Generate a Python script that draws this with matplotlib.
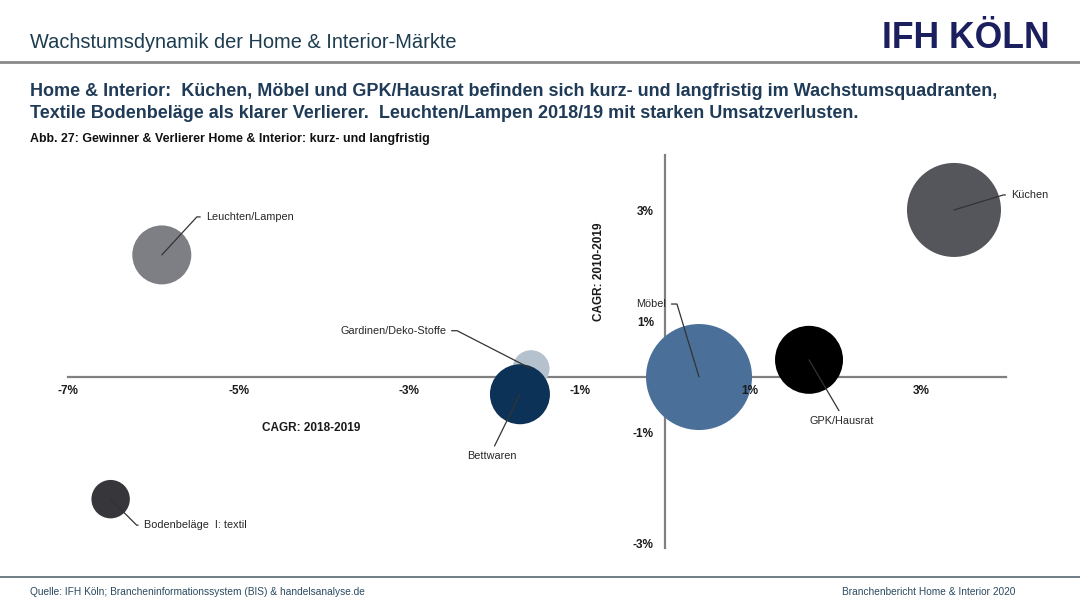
import math
import matplotlib
matplotlib.use('Agg')
import matplotlib.pyplot as plt
from matplotlib.lines import Line2D
from matplotlib import font_manager as fm
import numpy as np

# ---------------- data ----------------
segmente = ['Küchen', 'Leuchten/Lampen', 'Gardinen/Deko-Stoffe', 'Bettwaren',
            'Möbel', 'GPK/Hausrat', 'Bodenbeläge  I: textil']
cagr_2018_2019 = [3.39, -5.90, -1.57, -1.70, 0.40, 1.69, -6.50]   # x, in %
cagr_2010_2019 = [3.01, 2.20, 0.15, -0.31, 0.00, 0.31, -2.20]     # y, in %
marktgroesse = [2209, 870, 342, 900, 2809, 1156, 369]            # relative bubble area
farben = ['#55565b', '#7e7f84', '#b5c1cc', '#0c3257', '#4a7099', '#000000', '#36363b']

x_ticks = [-7, -5, -3, -1, 1, 3]
x_ticklabels = ['-7%', '-5%', '-3%', '-1%', '1%', '3%']
y_ticks = [3, 1, -1, -3]
y_ticklabels = ['3%', '1%', '-1%', '-3%']

# ---------------- figure ----------------
W, H = 1080, 607
fig = plt.figure(figsize=(W / 100, H / 100), dpi=100)
fig.patch.set_facecolor('white')

names = {f.name for f in fm.fontManager.ttflist}
BASE = 'Liberation Sans' if 'Liberation Sans' in names else 'DejaVu Sans'
NARROW = 'Liberation Sans Narrow' if 'Liberation Sans Narrow' in names else None
plt.rcParams['font.family'] = [BASE, 'DejaVu Sans']


def fx(px):
    return px / W


def fy(py):
    return 1 - py / H


ax = fig.add_axes([fx(68), fy(548), (1006 - 68) / W, (548 - 155) / H])
ax.set_xlim(-7.0, 4.0)
ax.set_ylim(-3.08, 4.0)
ax.patch.set_alpha(0)

for s in ['top', 'right']:
    ax.spines[s].set_visible(False)
ax.spines['left'].set_position(('data', 0))
ax.spines['bottom'].set_position(('data', 0))
for s in ['left', 'bottom']:
    ax.spines[s].set_color('#808080')
    ax.spines[s].set_linewidth(1.6)
    ax.spines[s].set_zorder(1)

ax.set_xticks(x_ticks)
ax.set_xticklabels(x_ticklabels, fontsize=8.5, fontweight='bold', color='#1a1a1a')
ax.set_yticks(y_ticks)
ax.set_yticklabels(y_ticklabels, fontsize=8.5, fontweight='bold', color='#1a1a1a')
ax.tick_params(axis='x', length=0, pad=6)
ax.tick_params(axis='y', length=0, pad=8)
ax.xaxis.set_zorder(5)
ax.yaxis.set_zorder(5)

sizes = np.array(marktgroesse) * (1.44 ** 2)
ax.scatter(cagr_2018_2019, cagr_2010_2019, s=sizes, c=farben, edgecolors='none',
           zorder=3, clip_on=False)

# ---------------- labels with leader lines ----------------
lab_font = dict(fontsize=9, family=NARROW) if NARROW else dict(fontsize=7.8)
# text offset (px), ha, va, corner offset (px) or None, relpos
ann = {
    'Küchen': ((57, 15), 'left', 'center', (46, 14), (0, 0.5)),
    'Leuchten/Lampen': ((44, 38), 'left', 'center', (36, 39), (0, 0.5)),
    'Gardinen/Deko-Stoffe': ((-85, 38), 'right', 'center', (-74, 38), (1, 0.5)),
    'Bettwaren': ((-28, -57), 'center', 'top', None, (0.5, 1)),
    'Möbel': ((-63, 73), 'left', 'center', (-22, 73), (1, 0.5)),
    'GPK/Hausrat': ((33, -56), 'center', 'top', None, (0.5, 1)),
    'Bodenbeläge  I: textil': ((33, -26), 'left', 'center', (26, -26), (0, 0.5)),
}
for name, x, y in zip(segmente, cagr_2018_2019, cagr_2010_2019):
    (dx, dy), ha, va, corner, relpos = ann[name]
    ap = dict(arrowstyle='-', color='#333333', lw=0.9, shrinkA=2, shrinkB=0, relpos=relpos)
    if corner is not None:
        angB = math.degrees(math.atan2(corner[1], corner[0]))
        ap['connectionstyle'] = f'angle,angleA=0,angleB={angB:.1f},rad=0'
    ax.annotate(name, xy=(x, y), xytext=(dx, dy), textcoords='offset pixels',
                ha=ha, va=va, color='#262626', arrowprops=ap, zorder=4,
                annotation_clip=False, **lab_font)

fig.text(fx(311), fy(428), 'CAGR: 2018-2019', ha='center', va='center',
         fontsize=8.5, fontweight='bold', color='#1a1a1a')
fig.text(fx(599), fy(272), 'CAGR: 2010-2019', ha='center', va='center', rotation=90,
         fontsize=8.5, fontweight='bold', color='#1a1a1a')

# ---------------- header / footer ----------------
title = fig.text(fx(30), fy(42), 'Wachstumsdynamik der Home & Interior-Märkte',
                 ha='left', va='center', fontsize=14, color='#1d3c50')
logo = fig.text(fx(1050), fy(38), 'IFH KÖLN', ha='right', va='center', fontsize=24,
                fontweight='bold', color='#1b1f5e')
h1 = fig.text(fx(30), fy(91),
              'Home & Interior:  Küchen, Möbel und GPK/Hausrat befinden sich kurz- und langfristig im Wachstumsquadranten,',
              ha='left', va='center', fontsize=12, fontweight='bold', color='#1f3b57')
h2 = fig.text(fx(30), fy(113),
              'Textile Bodenbeläge als klarer Verlierer.  Leuchten/Lampen 2018/19 mit starken Umsatzverlusten.',
              ha='left', va='center', fontsize=12, fontweight='bold', color='#1f3b57')
sub = fig.text(fx(30), fy(139),
               'Abb. 27: Gewinner & Verlierer Home & Interior: kurz- und langfristig',
               ha='left', va='center', fontsize=8, fontweight='bold', color='#111111')
f1 = fig.text(fx(30), fy(592),
              'Quelle: IFH Köln; Brancheninformationssystem (BIS) & handelsanalyse.de',
              ha='left', va='center', fontsize=7.5, color='#2b4a60')
f2 = fig.text(fx(1015), fy(592), 'Branchenbericht Home & Interior 2020',
              ha='right', va='center', fontsize=7.5, color='#2b4a60')

fig.add_artist(Line2D([0, 1], [fy(62), fy(62)], color='#8a8a8a', lw=2))
fig.add_artist(Line2D([0, 1], [fy(577), fy(577)], color='#6f7d87', lw=1.4))

# fit header/footer texts to the widths in the reference
renderer = fig.canvas.get_renderer()
for t, wpx in [(title, 429), (logo, 168), (h1, 965), (h2, 822), (sub, 398),
               (f1, 335), (f2, 173)]:
    w = t.get_window_extent(renderer=renderer).width
    t.set_fontsize(t.get_fontsize() * wpx / w)

fig.savefig('out.png', dpi=100)
